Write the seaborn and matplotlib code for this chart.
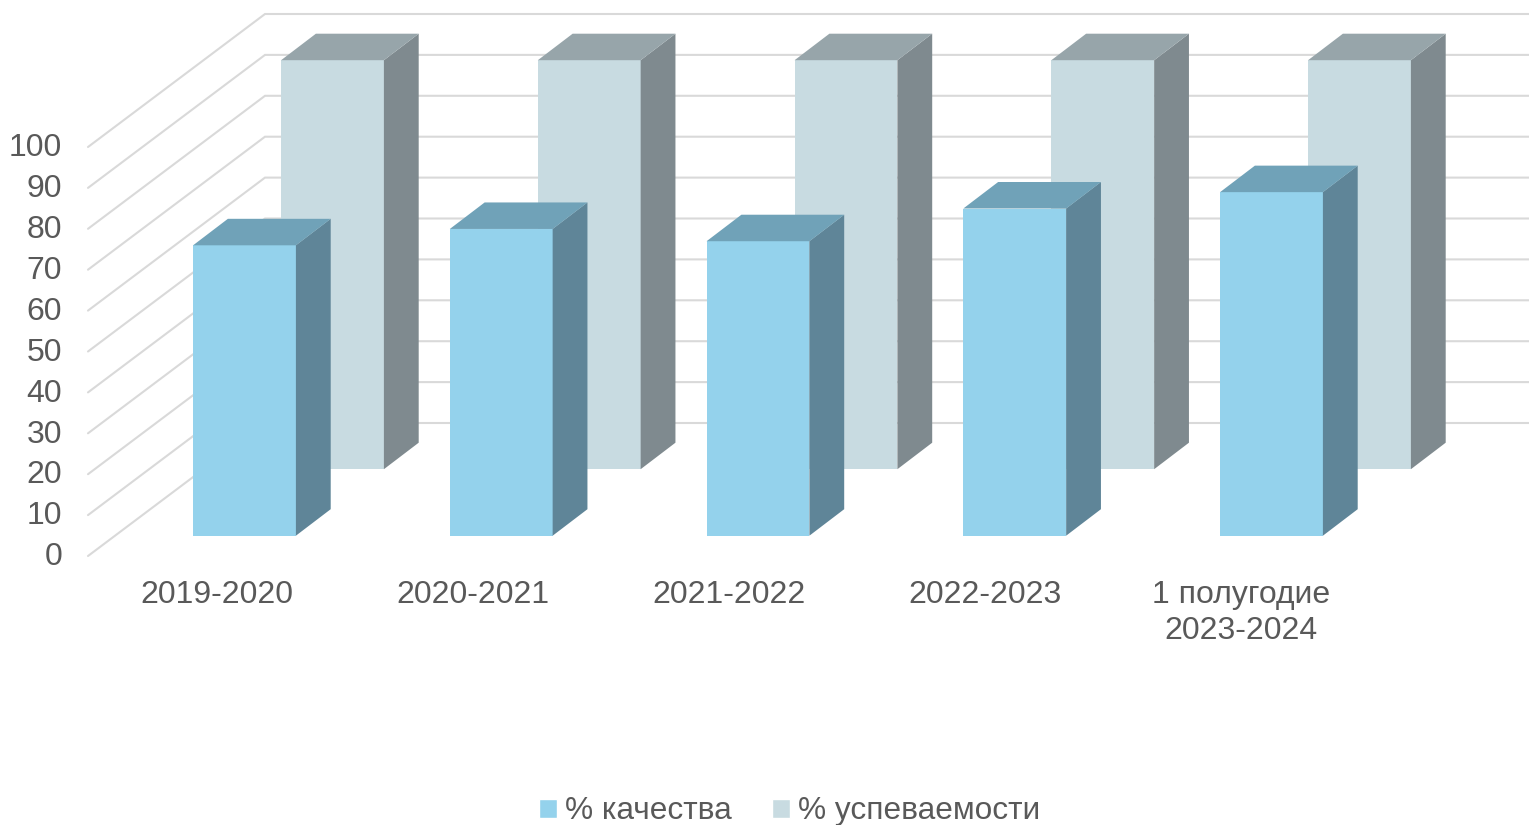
import numpy as np
import pandas as pd
import matplotlib
matplotlib.use('Agg')
import matplotlib.pyplot as plt
from matplotlib.patches import Patch, Polygon
from matplotlib.transforms import Affine2D
import seaborn as sns

periods = ['2019-2020', '2020-2021', '2021-2022', '2022-2023', '1 полугодие\n2023-2024']
quality = [71, 75, 72, 80, 84]
progress = [100, 100, 100, 100, 100]
y_ticks = [0, 10, 20, 30, 40, 50, 60, 70, 80, 90, 100]

PX_X = 256.75  # pixels per category
PX_Y = 4.09    # pixels per percent
BASE_PX = 535.7
BAR_W = 102.8 / PX_X
DEPTH = (34.8 / PX_X, 26.5 / PX_Y)    # oblique depth of one bar
BACK_SHIFT = (88 / PX_X, 66.5 / PX_Y) # second row of bars
WALL = (177 / PX_X, 133 / PX_Y)       # floor depth
X0 = (88 - 244.5) / PX_X              # front left corner of the floor
Y0 = -20.3 / PX_Y

C_FRONT = ('#94D2EC', '#5F8598', '#70A2B8')
C_BACK = ('#C8DBE1', '#7F8A8F', '#97A5AA')
TEXT = '#595959'
GRID = '#D9D9D9'


def add_depth(ax, bars, side, top, trans, zorder):
    # side and top faces of each bar, taken from the bar seaborn drew
    dx, dy = DEPTH
    for bar in bars:
        x1 = bar.get_x() + bar.get_width()
        x0 = bar.get_x()
        h = bar.get_height()
        bar.set_transform(trans)
        ax.add_patch(Polygon([(x1, 0), (x1 + dx, dy), (x1 + dx, h + dy), (x1, h)],
                             fc=side, ec='none', transform=trans, zorder=zorder))
        ax.add_patch(Polygon([(x0, h), (x0 + dx, h + dy), (x1 + dx, h + dy), (x1, h)],
                             fc=top, ec='none', transform=trans, zorder=zorder))


def main():
    sns.set_theme(style='white')
    plt.rcParams['font.family'] = ['Liberation Sans', 'DejaVu Sans']

    df = pd.DataFrame({'period': periods, 'quality': quality, 'progress': progress})

    fig = plt.figure(figsize=(15.29, 8.25), dpi=100)
    ax = fig.add_axes([0, 0, 1, 1])

    sns.barplot(data=df, x='period', y='progress', color=C_BACK[0], saturation=1,
                width=BAR_W, linewidth=0, zorder=2, ax=ax)
    sns.barplot(data=df, x='period', y='quality', color=C_FRONT[0], saturation=1,
                width=BAR_W, linewidth=0, zorder=3, ax=ax)

    ax.set_xlim(-244.5 / PX_X, (1529 - 244.5) / PX_X)
    ax.set_ylim(-(825 - BASE_PX) / PX_Y, BASE_PX / PX_Y)
    ax.axis('off')

    back_trans = Affine2D().translate(*BACK_SHIFT) + ax.transData
    add_depth(ax, ax.containers[0], C_BACK[1], C_BACK[2], back_trans, 2)
    add_depth(ax, ax.containers[1], C_FRONT[1], C_FRONT[2], ax.transData, 3)

    # walls
    for v in y_ticks:
        y = v + Y0
        ax.plot([X0, X0 + WALL[0], ax.get_xlim()[1]], [y, y + WALL[1], y + WALL[1]],
                color=GRID, lw=1.5, zorder=1, solid_joinstyle='miter')
        ax.text(X0 - 26 / PX_X, v - 21.5 / PX_Y, str(v), ha='right', va='center',
                fontsize=23, color=TEXT)

    for i, label in enumerate(periods):
        ax.text((i * 256 - 27.5) / PX_X, -44.3 / PX_Y, label, ha='center', va='top',
                fontsize=23, color=TEXT, linespacing=1.28)

    handles = [Patch(fc=C_FRONT[0], label='% качества'),
               Patch(fc=C_BACK[0], label='% успеваемости')]
    ax.legend(handles=handles, loc='lower center', bbox_to_anchor=(0.5165, -0.021), ncols=2,
              frameon=False, fontsize=22.8, labelcolor=TEXT, handlelength=0.56,
              handleheight=0.56, handletextpad=0.28, columnspacing=1.25, borderpad=0)

    plt.savefig('out.png', dpi=100)


if __name__ == '__main__':
    main()
